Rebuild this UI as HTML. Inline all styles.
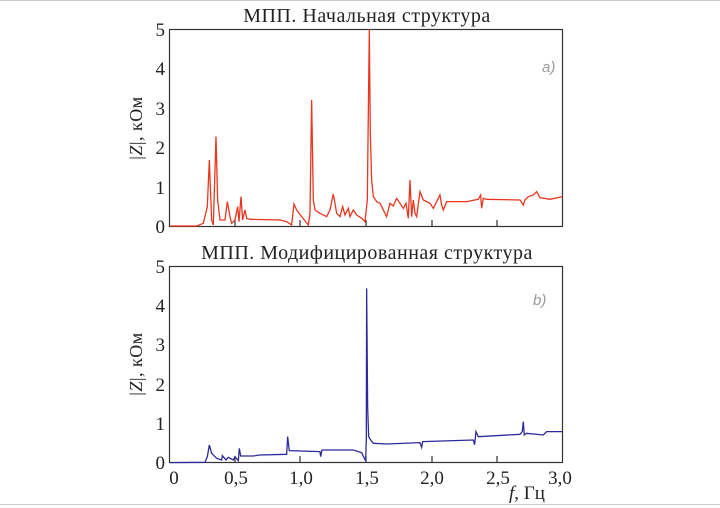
<!DOCTYPE html>
<html><head><meta charset="utf-8"><style>
body{margin:0;background:#fff;}
svg{display:block;}
text{font-family:"Liberation Serif","DejaVu Serif",serif;fill:#222;}
</style></head><body>
<svg width="720" height="508" viewBox="0 0 720 508">
<line x1="0" y1="0.5" x2="720" y2="0.5" stroke="#ccc"/>
<line x1="0" y1="504.5" x2="720" y2="504.5" stroke="#ccc"/>
<!-- top -->
<text x="367" y="22" font-size="20" letter-spacing="0.5" text-anchor="middle">МПП. Начальная структура</text>
<rect x="169.5" y="29.5" width="393" height="197" fill="none" stroke="#333" stroke-width="1.2"/>
<g font-size="19" text-anchor="end">
<text x="165" y="233">0</text><text x="165" y="194">1</text><text x="165" y="154">2</text><text x="165" y="115">3</text><text x="165" y="75">4</text><text x="165" y="36">5</text>
</g>
<g stroke="#333" stroke-width="1.2">
<line x1="235" y1="226" x2="235" y2="220"/><line x1="300" y1="226" x2="300" y2="220"/><line x1="366" y1="226" x2="366" y2="220"/><line x1="432" y1="226" x2="432" y2="220"/><line x1="497" y1="226" x2="497" y2="220"/>
</g>
<text transform="translate(142,128) rotate(-90)" font-size="18" letter-spacing="0.5" text-anchor="middle">|<tspan font-style="italic">Z</tspan>|, кОм</text>
<text x="542" y="72" font-size="15" font-style="italic" style="fill:#999;font-family:'Liberation Sans',sans-serif">a)</text>
<g transform="translate(120,0) scale(0.3333)">
<polyline fill="none" stroke="#e8361f" stroke-width="1.3" vector-effect="non-scaling-stroke" points="150,678 230,678 250,670 262,620 268,480 275,660 280,675 288,410 293,600 300,660 315,660 322,605 330,650 335,670 345,660 353,620 357,665 363,590 368,660 375,630 380,655 390,658 480,660 500,665 515,675 522,612 530,630 545,650 565,675 570,640 575,300 580,600 585,630 600,640 620,650 630,630 640,582 645,610 650,640 660,650 668,620 675,645 685,625 690,650 700,630 710,645 725,655 735,665 742,600 748,88 751,400 755,540 760,590 770,605 780,610 800,650 810,610 820,618 830,595 840,610 850,625 858,610 865,655 870,540 875,650 880,600 885,640 890,650 900,575 910,600 930,610 940,625 960,585 965,615 970,630 980,605 1000,605 1040,605 1075,598 1082,585 1085,625 1090,595 1100,598 1200,600 1210,615 1215,600 1225,590 1240,585 1250,575 1260,593 1290,598 1328,590"/>
</g>
<!-- bottom -->
<text x="367" y="259" font-size="20" letter-spacing="0.5" text-anchor="middle">МПП. Модифицированная структура</text>
<rect x="169.5" y="266.5" width="393" height="196" fill="none" stroke="#333" stroke-width="1.2"/>
<g font-size="19" text-anchor="end">
<text x="165" y="469">0</text><text x="165" y="430">1</text><text x="165" y="391">2</text><text x="165" y="351">3</text><text x="165" y="312">4</text><text x="165" y="273">5</text>
</g>
<g stroke="#333" stroke-width="1.2">
<line x1="235" y1="462" x2="235" y2="456"/><line x1="300" y1="462" x2="300" y2="456"/><line x1="366" y1="462" x2="366" y2="456"/><line x1="432" y1="462" x2="432" y2="456"/><line x1="497" y1="462" x2="497" y2="456"/>
</g>
<g font-size="19" text-anchor="middle">
<text x="174" y="484">0</text><text x="236" y="484">0,5</text><text x="301" y="484">1,0</text><text x="367" y="484">1,5</text><text x="432" y="484">2,0</text><text x="498" y="484">2,5</text><text x="560" y="484">3,0</text>
</g>
<text x="509" y="499" font-size="19"><tspan font-style="italic">f</tspan>, Гц</text>
<text transform="translate(142,364) rotate(-90)" font-size="18" letter-spacing="0.5" text-anchor="middle">|<tspan font-style="italic">Z</tspan>|, кОм</text>
<text x="533" y="305" font-size="15" font-style="italic" style="fill:#999;font-family:'Liberation Sans',sans-serif">b)</text>
<g transform="translate(120,240) scale(0.3333)">
<polyline fill="none" stroke="#2e2a9c" stroke-width="1.3" vector-effect="non-scaling-stroke" points="150,668 255,667 262,650 268,615 275,640 290,655 305,660 307,647 318,660 325,652 340,660 345,650 355,662 358,625 362,648 400,648 420,645 500,643 503,590 508,632 600,635 602,650 606,630 700,630 725,638 733,655 737,662 739,600 740,145 743,500 746,590 752,600 760,610 800,612 900,608 905,622 908,605 1060,600 1064,614 1068,575 1075,590 1200,583 1207,575 1210,545 1213,585 1220,580 1270,585 1280,575 1328,575"/>
</g>
</svg>
</body></html>
